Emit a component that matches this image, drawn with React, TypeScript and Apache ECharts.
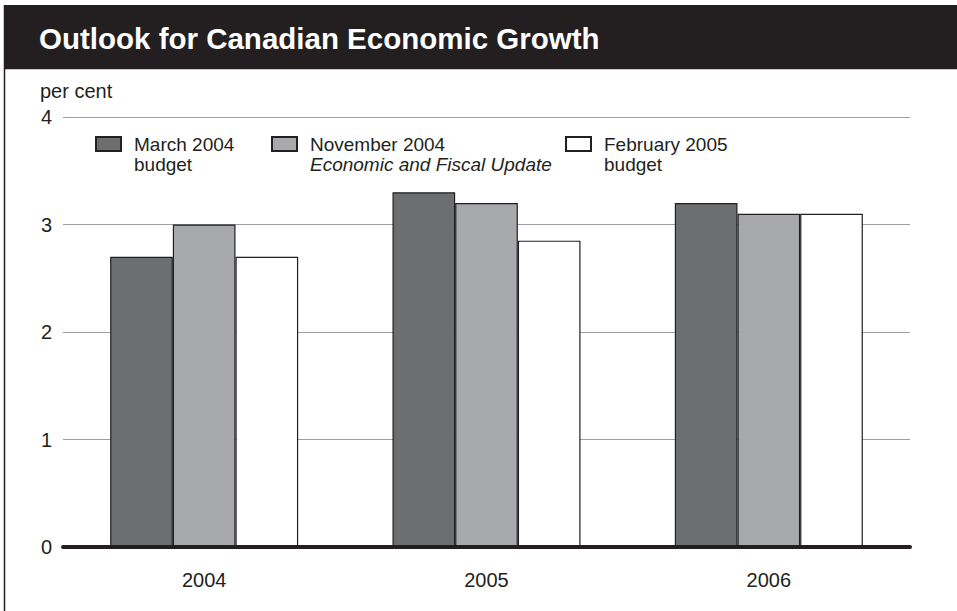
import React, { useEffect, useRef } from "react";
import * as echarts from "echarts";

const categories = ["2004", "2005", "2006"];
const march2004Budget = [2.7, 3.3, 3.2];
const november2004Update = [3.0, 3.2, 3.1];
const february2005Budget = [2.7, 2.85, 3.1];
const yTicks = { min: 0, max: 4, interval: 1 };

const TEXT = "#231f20";
const FONT = "'Liberation Sans', Arial, Helvetica, sans-serif";

export default function App() {
  const ref = useRef<HTMLDivElement>(null);
  useEffect(() => {
    if (!ref.current) return;
    const chart = echarts.init(ref.current, null, { renderer: "svg" });
    const border = { borderColor: TEXT, borderWidth: 1.2 };
    const richStyles = {
      n: { fontFamily: FONT, fontSize: 19, color: TEXT, lineHeight: 20 },
      i: {
        fontFamily: FONT,
        fontSize: 19,
        color: TEXT,
        lineHeight: 20,
        fontStyle: "italic",
      },
    };
    const legendBase = {
      orient: "horizontal",
      top: 114,
      padding: 0,
      itemWidth: 25,
      itemHeight: 14,
      icon: "rect",
      textStyle: {
        fontFamily: FONT,
        fontSize: 19,
        color: TEXT,
        lineHeight: 20,
        padding: [20, 0, 0, 8],
        rich: richStyles,
      },
    };
    chart.setOption({
      animation: false,
      backgroundColor: "#ffffff",
      textStyle: { fontFamily: FONT },
      graphic: [
        {
          type: "rect",
          shape: { x: 4, y: 5, width: 960, height: 64 },
          style: { fill: "#231f20" },
          z: -1,
        },
        {
          type: "line",
          shape: { x1: 4, y1: 69.5, x2: 957, y2: 69.5 },
          style: { stroke: "#c8c8c8", lineWidth: 1 },
        },
        {
          type: "line",
          shape: { x1: 4.5, y1: 5, x2: 4.5, y2: 611 },
          style: { stroke: TEXT, lineWidth: 1.5 },
        },
      ],
      title: [
        {
          text: "Outlook for Canadian Economic Growth",
          left: 39,
          top: 23,
          padding: 0,
          textStyle: {
            color: "#ffffff",
            fontFamily: FONT,
            fontWeight: "bold",
            fontSize: 29.5,
          },
        },
        {
          text: "per cent",
          left: 40,
          top: 81,
          padding: 0,
          textStyle: {
            color: TEXT,
            fontFamily: FONT,
            fontWeight: "normal",
            fontSize: 20,
          },
        },
      ],
      legend: [
        {
          ...legendBase,
          left: 95,
          data: ["March 2004 budget"],
          formatter: () => "{n|March 2004}\n{n|budget}",
        },
        {
          ...legendBase,
          left: 271,
          data: ["November 2004 Economic and Fiscal Update"],
          formatter: () => "{n|November 2004}\n{i|Economic and Fiscal Update}",
        },
        {
          ...legendBase,
          left: 565,
          data: ["February 2005 budget"],
          formatter: () => "{n|February 2005}\n{n|budget}",
        },
      ],
      grid: { left: 63, right: 47, top: 117, bottom: 64, containLabel: false },
      xAxis: {
        type: "category",
        data: categories,
        axisLine: { show: true, lineStyle: { color: TEXT, width: 4 } },
        axisTick: { show: false },
        axisLabel: {
          color: TEXT,
          fontFamily: FONT,
          fontSize: 20,
          margin: 23,
        },
        splitLine: { show: false },
        z: 10,
      },
      yAxis: {
        type: "value",
        min: yTicks.min,
        max: yTicks.max,
        interval: yTicks.interval,
        axisLine: { show: false },
        axisTick: { show: false },
        axisLabel: {
          color: TEXT,
          fontFamily: FONT,
          fontSize: 20,
          margin: 11,
        },
        splitLine: { show: true, lineStyle: { color: "#a0a0a0", width: 1 } },
      },
      series: [
        {
          name: "March 2004 budget",
          type: "bar",
          data: march2004Budget,
          barGap: "0%",
          barCategoryGap: "33.4%",
          itemStyle: { color: "#6d6e70", ...border },
        },
        {
          name: "November 2004 Economic and Fiscal Update",
          type: "bar",
          data: november2004Update,
          barGap: "0%",
          barCategoryGap: "33.4%",
          itemStyle: { color: "#a7a9ac", ...border },
        },
        {
          name: "February 2005 budget",
          type: "bar",
          data: february2005Budget,
          barGap: "0%",
          barCategoryGap: "33.4%",
          itemStyle: { color: "#ffffff", ...border },
        },
      ],
    });
    return () => chart.dispose();
  }, []);
  return (
    <div
      ref={ref}
      style={{ position: "fixed", left: 0, top: 0, width: 957, height: 611 }}
    />
  );
}
